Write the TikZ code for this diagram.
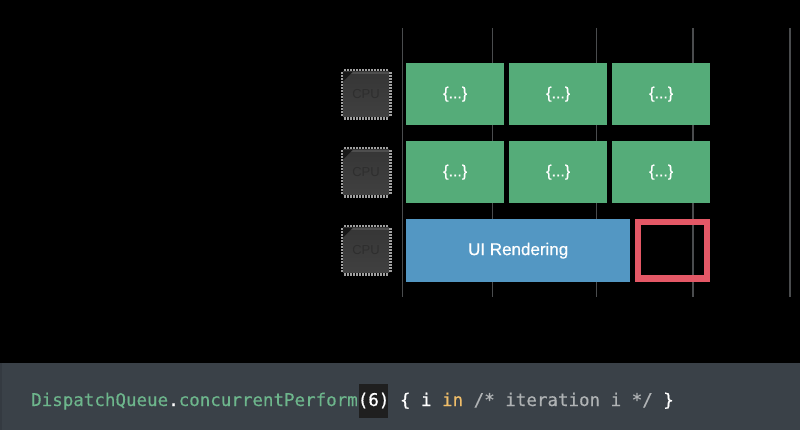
\documentclass[tikz,border=0pt]{standalone}
\usepackage{fontspec}
\setmainfont{Liberation Sans}
\newfontfamily\labelfont[FakeBold=0.5]{Liberation Sans}
\newfontfamily\codefont[FakeBold=0.25]{DejaVu Sans Mono}
\newfontfamily\codeheavy[FakeBold=0.7]{DejaVu Sans Mono}
\definecolor{taskgreen}{HTML}{55AC79}
\definecolor{uiblue}{HTML}{5397C3}
\definecolor{alertred}{HTML}{E45866}
\definecolor{panelgrey}{HTML}{3A4148}
\definecolor{gridgrey}{HTML}{4A4C4E}
\definecolor{codegreen}{HTML}{6DB68C}
\definecolor{codeorange}{HTML}{F0BE6A}
\definecolor{codegrey}{HTML}{B0B3B5}
\definecolor{chiptop}{HTML}{363636}
\definecolor{chipbot}{HTML}{404040}
\definecolor{chiptext}{HTML}{2E2E2E}
\definecolor{chipedge}{HTML}{4E4E4E}
\definecolor{chippincol}{HTML}{A0A0A0}
\tikzset{
  x=1pt,y=-1pt,
  gridline/.style={draw=gridgrey,line width=1.3pt},
  taskbox/.style={fill=taskgreen,draw=none,minimum width=98pt,minimum height=62pt,inner sep=0pt,
     text=white,font=\labelfont\fontsize{16}{16}\selectfont,anchor=north west},
  uibox/.style={fill=uiblue,draw=none,minimum width=224pt,minimum height=63pt,inner sep=0pt,
     text=white,font=\labelfont\fontsize{17}{17}\selectfont,anchor=north west},
  alertbox/.style={draw=alertred,line width=6pt,minimum width=69.5pt,minimum height=56.5pt,inner sep=0pt,anchor=north west},
  chipbody/.style={top color=chiptop,bottom color=chipbot,draw=none,minimum width=46pt,minimum height=45pt,inner sep=0pt,
     text=chiptext,font=\fontsize{13}{13}\selectfont},
  chippin/.style={fill=chippincol,draw=none},
  chipmark/.style={fill=black!55!chiptop,draw=none},
  chipbevel/.style={fill=chipedge,draw=none},
  codetext/.style={font=\codefont\fontsize{17.5}{18}\selectfont,anchor=base west,inner sep=0pt,text=white},
}
\newcommand{\chipat}[2]{%
  \node[chipbody] (#1) at (#2) {CPU};
  \fill[chipbevel] (#1.north west) rectangle ([yshift=-2pt]#1.north east);
  \fill[chipmark] (#1.north west) -- ++(10,0) -- ++(-10,10) -- cycle;
  \foreach \t in {-21,-18,...,21} {
    \fill[chippin] ([xshift=\t pt-1pt,yshift=25.5pt]#1.center) rectangle ++(2,2.5);
    \fill[chippin] ([xshift=\t pt-1pt,yshift=-23pt]#1.center) rectangle ++(2,2.5);
    \fill[chippin] ([xshift=-25.5pt,yshift=\t pt+1pt]#1.center) rectangle ++(2.5,2);
    \fill[chippin] ([xshift=23pt,yshift=\t pt+1pt]#1.center) rectangle ++(2.5,2);
  }
}
\begin{document}
\begin{tikzpicture}
\useasboundingbox (0,0) rectangle (800,430);
\fill[black] (0,0) rectangle (800,430);
% time grid
\foreach \x in {402.5,492.5,596.5,693,790} \draw[gridline] (\x,28) -- (\x,297);
% cpus
\chipat{cpua}{366,94.5}
\chipat{cpub}{366,172.5}
\chipat{cpuc}{366,250.5}
% tasks
\node[taskbox] (a1) at (406,63) {\{...\}};
\node[taskbox] (a2) at (509,63) {\{...\}};
\node[taskbox] (a3) at (612,63) {\{...\}};
\node[taskbox] (b1) at (406,141) {\{...\}};
\node[taskbox] (b2) at (509,141) {\{...\}};
\node[taskbox] (b3) at (612,141) {\{...\}};
\node[uibox] (ui) at (406,219) {\raisebox{-1pt}{UI Rendering}};
\node[alertbox] (gap) at (634.5,219) {};
% code panel
\fill[panelgrey] (1,363) rectangle (800,430);
\fill[black!10!panelgrey] (0,363) rectangle (1.5,430);
\fill[black!88!white] (359,384) rectangle (388,418);
\node[codetext] (code) at (31,406) {\textcolor{codegreen}{DispatchQueue}{\codeheavy.}\textcolor{codegreen}{concurrentPerform}{\codeheavy(6) \{ i} \textcolor{codeorange}{in} \textcolor{codegrey}{/* iteration i */} {\codeheavy\}}};
\end{tikzpicture}
\end{document}
